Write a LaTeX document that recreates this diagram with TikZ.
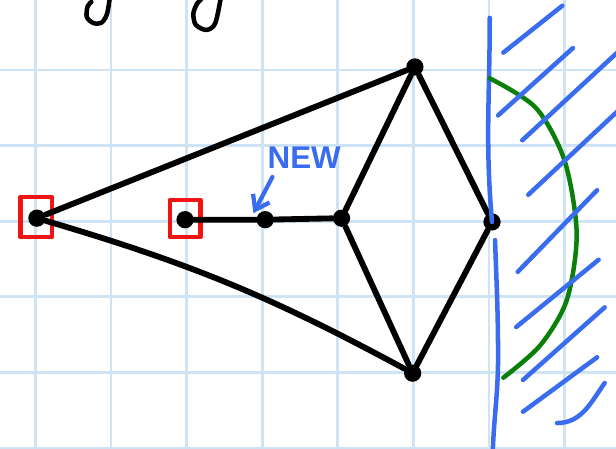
\documentclass[tikz,border=0pt]{standalone}
\usepackage{fontspec}
\setsansfont{Liberation Sans}
\usepackage{tikz}
\usetikzlibrary{arrows.meta,positioning,calc}
\definecolor{paper}{RGB}{206,228,245}
\definecolor{wall}{RGB}{58,108,240}
\definecolor{mirror}{RGB}{10,128,10}
\definecolor{keep}{RGB}{240,20,20}

\begin{document}
\begin{tikzpicture}[line cap=round,line join=round,
    dot/.style={circle,fill=black,inner sep=0pt,minimum size=6.5pt},
    edge/.style={black,line width=2.2pt},
    redbox/.style={draw=keep,line width=1.8pt,inner sep=0pt},
    hatch/.style={wall,line width=1.7pt}]
        \useasboundingbox (-0.468,-3) rectangle (7.68,2.926);
        \clip (-0.468,-3) rectangle (7.68,2.926);
        \draw[paper,line width=1pt] (-0.468,-3) grid (7.68,2.926);
        % letters cut off at the top edge
        \draw[black,line width=1.7pt] plot[smooth] coordinates {(0.99,3.0) (0.95,2.75) (0.88,2.63) (0.77,2.62) (0.68,2.70) (0.69,2.84) (0.74,2.90)};
        \draw[black,line width=1.7pt] plot[smooth] coordinates {(2.46,3.0) (2.38,2.62) (2.26,2.53) (2.12,2.60) (2.09,2.75) (2.14,2.88) (2.19,2.93)};
        % network
        \node[dot] (L) at (0.02,0.04) {};
        \node[dot] (S) at (1.98,0.02) {};
        \node[dot] (N) at (3.04,0.02) {};
        \node[dot] (M) at (4.05,0.04) {};
        \node[dot] (T) at (5.02,2.04) {};
        \node[dot] (B) at (4.99,-2.01) {};
        \node[dot] (R) at (6.04,-0.01) {};
        \node[redbox,minimum width=0.42cm,minimum height=0.53cm] (boxL) at (0.01,0.055) {};
        \node[redbox,minimum width=0.40cm,minimum height=0.49cm] (boxS) at (1.98,0.035) {};
        \draw[edge] (L) -- (T);
        \draw[edge] (L) to[bend left=6] (B);
        \draw[edge] (S) -- (N) -- (M);
        \draw[edge] (M) -- (T) -- (R);
        \draw[edge] (M) -- (B) -- (R);
        \node[text=wall,font=\sffamily\bfseries\fontsize{11.8}{12}\selectfont,inner sep=0pt] (newlbl) at (3.556,0.84) {NEW};
        \draw[wall,line width=1.6pt,-{Straight Barb[length=5pt,width=7pt]}] ([xshift=2pt,yshift=-3pt]newlbl.south west) -- ([xshift=-2pt]N.north west);
        % wall and reflector
        \draw[wall,line width=1.7pt] (6.01,2.69) to[out=-90,in=95] (R.center);
        \draw[wall,line width=1.7pt] (6.08,-0.25) to[out=-88,in=90] (6.12,-1.8) to[out=-90,in=88] (6.05,-3.05);
        \draw[mirror,line width=1.7pt] plot[smooth] coordinates {(6.01,1.89) (6.62,1.50) (7.0,0.80) (7.16,-0.16) (7.03,-1.04) (6.68,-1.64) (6.19,-2.07)};
        \draw[hatch] (6.19,2.23) -- (6.97,2.85);
        \draw[hatch] (6.12,1.40) -- (7.11,2.29);
        \draw[hatch] (6.44,1.07) -- (7.75,2.28);
        \draw[hatch] (6.52,0.35) -- (7.75,1.50);
        \draw[hatch] (6.38,-0.67) -- (7.43,0.41);
        \draw[hatch] (6.36,-1.40) -- (7.45,-0.51);
        \draw[hatch] (6.45,-2.10) -- (7.53,-1.14);
        \draw[hatch] (6.45,-2.52) -- (7.43,-1.80);
        \draw[hatch] (6.90,-2.67) to[out=0,in=-125] (7.53,-2.14);
      \end{tikzpicture}
\end{document}
